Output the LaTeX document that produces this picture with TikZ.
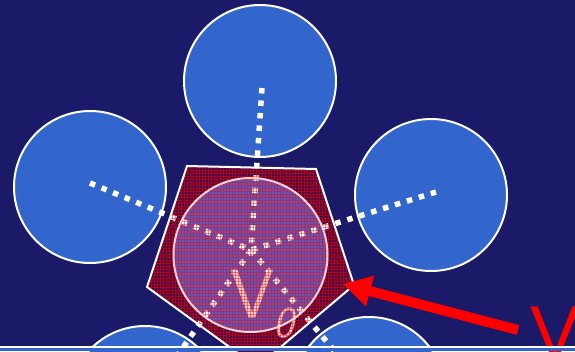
\documentclass[tikz,border=0pt]{standalone}
\usepackage{fontspec}
\newfontfamily\arialfont{Liberation Sans}
\usetikzlibrary{arrows.meta}
\definecolor{navy}{RGB}{26,26,104}
\definecolor{cblue}{RGB}{51,102,204}
\definecolor{pentbase}{RGB}{75,8,65}
\definecolor{innerblue}{RGB}{90,90,190}
\definecolor{pinkline}{RGB}{255,210,210}
\tikzset{
  ball/.style={circle, draw=white, line width=2pt, fill=cblue, minimum size=152pt, inner sep=0pt},
  dots/.style={draw=white, line width=5.5pt, dash pattern=on 5.5pt off 7pt},
  gridline/.style={draw=red, line width=0.9pt, draw opacity=0.45},
  redarrow/.style={draw=red, line width=10pt, -{Triangle[length=28pt,width=30pt]}},
}
\begin{document}
\begin{tikzpicture}[x=1pt,y=-1pt]
\useasboundingbox (0,0) rectangle (575,351);
\clip (0,0) rectangle (575,351);
\fill[navy] (0,0) rectangle (575,351);
% outer circles
\node[ball] (t) at (260,81) {};
\node[ball] (l) at (90,187) {};
\node[ball] (r) at (431,195) {};
\node[ball] (bl) at (145,402) {};
\node[ball] (br) at (369,393) {};
% pentagon
\coordinate (p1) at (187,166);
\coordinate (p2) at (316,169);
\coordinate (p3) at (354,285);
\coordinate (p4) at (257,367);
\coordinate (p5) at (147,287);
\fill[pentbase] (p1)--(p2)--(p3)--(p4)--(p5)--cycle;
\node[circle, fill=innerblue, minimum size=154pt, inner sep=0pt] (c) at (250.5,255) {};
% dotted spokes
\coordinate (hub) at (251,250);
\coordinate (et) at (262,88);
\coordinate (el) at (90,183);
\coordinate (er) at (436,192);
\draw[dots] (et) -- (hub);
\draw[dots] (el) -- (hub);
\draw[dots] (er) -- (hub);
\draw[dots] (hub) -- (bl.center);
\draw[dots] (hub) -- (br.center);
% label
\node[anchor=base, inner sep=0pt, text=pinkline, font=\sffamily\fontsize{70}{70}\selectfont] (v) at (252,318) {V};
\node[anchor=base, inner sep=0pt, text=pinkline, font=\sffamily\slshape\fontsize{44}{44}\selectfont] (z) at (284,337) {0};
% grid overlay
\begin{scope}
\clip (p1)--(p2)--(p3)--(p4)--(p5)--cycle;
\foreach \k in {0,...,70} {
  \draw[gridline] (145,164+3*\k) -- (357,164+3*\k);
  \draw[gridline] (145+3*\k,164) -- (145+3*\k,370);
}
\end{scope}
\draw[white, line width=2pt, line join=miter] (p1)--(p2)--(p3)--(p4)--(p5)--cycle;
\draw[pinkline, line width=2pt] (c.center) circle[radius=77pt];
% arrow
\coordinate (tail) at (518,330);
\coordinate (tip) at (343,284);
\draw[redarrow] (tail) -- (tip);
\node[anchor=north west, inner sep=0pt, text=red, font=\arialfont\fontsize{75}{75}\selectfont] (rv) at (530,307) {V};
% bottom strip
\fill[white] (0,345.5) rectangle (575,347.5);
\fill[cblue] (0,347.5) rectangle (575,351);
\end{tikzpicture}
\end{document}
